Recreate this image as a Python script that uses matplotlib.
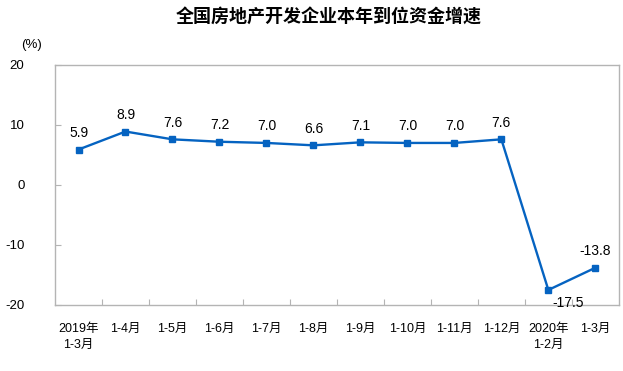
import matplotlib
matplotlib.use("Agg")
import matplotlib.pyplot as plt

plt.rcParams['font.family'] = ['Liberation Sans', 'Noto Sans CJK SC']

#Data
categories = ["2019年\n1-3月", "1-4月", "1-5月", "1-6月", "1-7月", "1-8月",
              "1-9月", "1-10月", "1-11月", "1-12月", "2020年\n1-2月", "1-3月"]
growth = [5.9, 8.9, 7.6, 7.2, 7.0, 6.6, 7.1, 7.0, 7.0, 7.6, -17.5, -13.8]
yTicks = [-20, -10, 0, 10, 20]

lineColor = "#0563c1"
spineColor = "#b4b4b4"

fig = plt.figure(figsize=(6.23, 3.71), dpi=100)
ax = fig.add_axes([0.0883, 0.178, 0.905, 0.647])

xs = list(range(len(categories)))
ax.plot(xs, growth, color=lineColor, linewidth=1.7, marker="s", markersize=5,
        markerfacecolor=lineColor, markeredgecolor=lineColor)

#Point labels
for x, v in zip(xs, growth):
    if v == -17.5:
        ax.annotate(f"{v:.1f}", (x, v), xytext=(14, -4), textcoords="offset points",
                    ha="center", va="top", fontsize=10)
    else:
        ax.annotate(f"{v:.1f}", (x, v), xytext=(0, 7), textcoords="offset points",
                    ha="center", va="bottom", fontsize=10)

ax.set_xlim(-0.5, len(categories) - 0.5)
ax.set_ylim(-20, 20)
ax.set_yticks(yTicks)
ax.set_yticklabels([str(t) for t in yTicks], fontsize=9.5)

#Category boundaries as ticks, labels in the middle
ax.set_xticks([i + 0.5 for i in range(len(categories) - 1)])
ax.set_xticklabels([])
ax.set_xticks(xs, minor=True)
ax.set_xticklabels(categories, minor=True, fontsize=9, linespacing=1.4, va="top")
ax.tick_params(axis="x", which="minor", length=0, pad=13)
ax.tick_params(axis="x", which="major", direction="in", length=4, color=spineColor)
ax.tick_params(axis="y", direction="in", length=4, color=spineColor, pad=22)
for lbl in ax.get_yticklabels():
    lbl.set_horizontalalignment("right")

for s in ax.spines.values():
    s.set_color(spineColor)
    s.set_linewidth(1)

fig.text(0.527, 0.955, "全国房地产开发企业本年到位资金增速", ha="center", va="center",
         fontsize=13, fontweight="bold")
fig.text(0.05, 0.88, "(%)", ha="center", va="center", fontsize=9.5)

fig.savefig("out.png", dpi=100)
